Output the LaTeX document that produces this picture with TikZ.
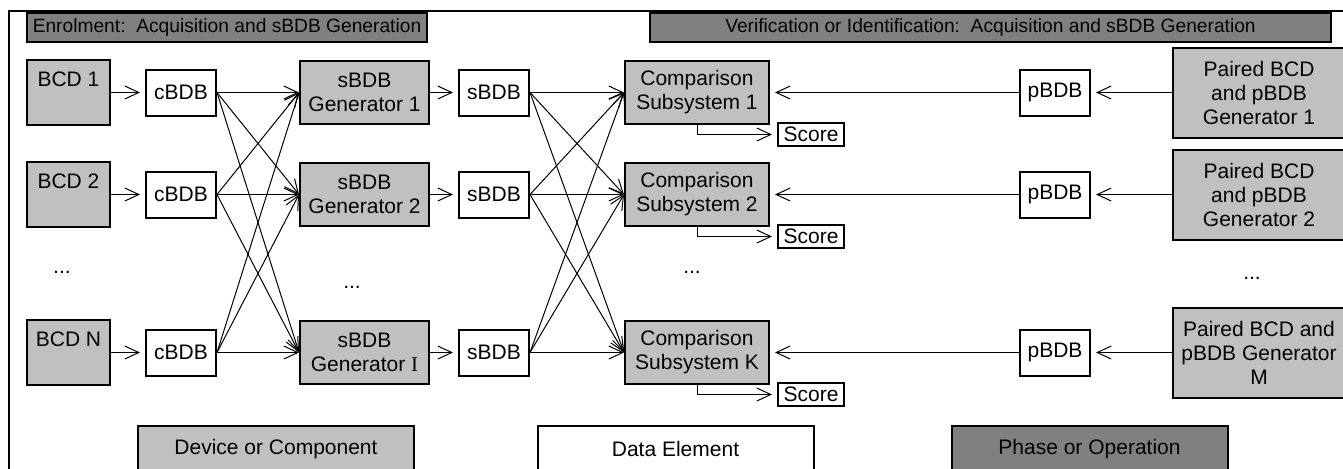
\documentclass[tikz,border=0pt]{standalone}
\usepackage{fontspec}
\setmainfont{Liberation Sans}
\newfontfamily\romanI{Liberation Serif}
\usepackage{xcolor}
\definecolor{devicegray}{RGB}{192,192,192}
\definecolor{phasegray}{RGB}{128,128,128}
\usepackage{tikz}
\usetikzlibrary{arrows.meta,positioning}

\begin{document}
\begin{tikzpicture}[
    x=0.5pt, y=-0.5pt,
    font=\fontsize{10.5}{12}\selectfont,
    phase/.style={rectangle, draw, line width=1pt, fill=phasegray, minimum height=14.5pt, inner sep=0pt},
    header/.style={phase, font=\fontsize{9.6}{11}\selectfont},
    device/.style={rectangle, draw, line width=1pt, fill=devicegray, align=center, inner sep=0pt},
    dataelem/.style={rectangle, draw, line width=1pt, fill=white, align=center, inner sep=0pt, minimum width=35pt, minimum height=23pt},
    bcd/.style={device, minimum width=41.5pt, minimum height=32.5pt},
    gen/.style={device, minimum width=64.5pt, minimum height=31.5pt},
    cmp/.style={device, minimum width=72pt, minimum height=31.5pt},
    paired/.style={device, minimum width=86pt, minimum height=45pt},
    score/.style={dataelem, minimum width=33pt, minimum height=11.5pt},
    legend/.style={minimum width=138pt, minimum height=23pt},
    arrow/.style={-{Straight Barb[length=7pt,width=6.5pt]}, line width=0.5pt},
    gap/.style={shorten >=2.5pt}
]
\useasboundingbox (0,0) rectangle (1343,468);

% Frame
\draw[line width=1pt] (8.5,500) |- (1360,11);

% Phases
\node[header, minimum width=200pt] (enrol) at (227,27.5) {Enrolment:\ \ Acquisition and sBDB Generation};
\node[header, minimum width=340.5pt] (verif) at (990.5,27.5) {Verification or Identification:\ \ Acquisition and sBDB Generation};

% Capture devices
\node[bcd, label={[anchor=north, yshift=-3pt]north:BCD 1}] (bcd1) at (68.5,92.5) {};
\node[bcd, label={[anchor=north, yshift=-3pt]north:BCD 2}] (bcd2) at (68.5,194.5) {};
\node[bcd, label={[anchor=north, yshift=-3pt]north:BCD N}] (bcdn) at (68.5,352.5) {};
\node (dotsbcd) at (62,272) {...};

% cBDB
\node[dataelem, right=17pt of bcd1] (cbdb1) {cBDB};
\node[dataelem, right=17pt of bcd2] (cbdb2) {cBDB};
\node[dataelem, right=17pt of bcdn] (cbdbn) {cBDB};

% sBDB generators
\node[gen, right=41pt of cbdb1] (gen1) {sBDB\\Generator 1};
\node[gen, right=41pt of cbdb2] (gen2) {sBDB\\Generator 2};
\node[gen, right=41pt of cbdbn] (geni) {sBDB\\Generator {\romanI I}};
\node (dotsgen) at (352,287) {...};

% sBDB
\node[dataelem, right=14pt of gen1] (sbdb1) {sBDB};
\node[dataelem, right=14pt of gen2] (sbdb2) {sBDB};
\node[dataelem, right=14pt of geni] (sbdbi) {sBDB};

% Comparison subsystems
\node[cmp, right=47pt of sbdb1] (cmp1) {Comparison\\Subsystem 1};
\node[cmp, right=47pt of sbdb2] (cmp2) {Comparison\\Subsystem 2};
\node[cmp, right=47pt of sbdbi] (cmpk) {Comparison\\Subsystem K};
\node (dotscmp) at (692,272) {...};

% Scores
\node[score, right=3.5pt of cmp1.south east, yshift=-4.75pt] (score1) {Score};
\node[score, right=3.5pt of cmp2.south east, yshift=-4.75pt] (score2) {Score};
\node[score, right=3.5pt of cmpk.south east, yshift=-4.75pt] (scorek) {Score};

% pBDB
\node[dataelem, right=124.5pt of cmp1] (pbdb1) {pBDB};
\node[dataelem, right=124.5pt of cmp2] (pbdb2) {pBDB};
\node[dataelem, right=124.5pt of cmpk] (pbdbm) {pBDB};

% Paired BCD and pBDB generators
\node[paired, right=40.5pt of pbdb1] (paired1) {Paired BCD\\and pBDB\\Generator 1};
\node[paired, right=40.5pt of pbdb2] (paired2) {Paired BCD\\and pBDB\\Generator 2};
\node[paired, right=40.5pt of pbdbm] (pairedm) {Paired BCD and\\pBDB Generator\\M};
\node (dotspaired) at (1252,278) {...};

% Legend
\node[device, legend] (legdev) at (276,449) {Device or Component};
\node[dataelem, legend] (legdata) at (675.5,449) {Data Element};
\node[phase, legend] (legphase) at (1089.5,449) {Phase or Operation};

% Enrolment arrows
\draw[arrow, gap] (bcd1) -- (cbdb1);
\draw[arrow, gap] (bcd2) -- (cbdb2);
\draw[arrow, gap] (bcdn) -- (cbdbn);
\foreach \src in {cbdb1,cbdb2,cbdbn}
  \foreach \dst in {gen1,gen2,geni}
    \draw[arrow] (\src.east) -- (\dst.west);
\draw[arrow, gap] (gen1) -- (sbdb1);
\draw[arrow, gap] (gen2) -- (sbdb2);
\draw[arrow, gap] (geni) -- (sbdbi);
\foreach \src in {sbdb1,sbdb2,sbdbi}
  \foreach \dst in {cmp1,cmp2,cmpk}
    \draw[arrow] (\src.east) -- (\dst.west);

% Verification arrows
\draw[arrow, gap] (paired1) -- (pbdb1);
\draw[arrow, gap] (paired2) -- (pbdb2);
\draw[arrow, gap] (pairedm) -- (pbdbm);
\draw[arrow, gap] (pbdb1) -- (cmp1);
\draw[arrow, gap] (pbdb2) -- (cmp2);
\draw[arrow, gap] (pbdbm) -- (cmpk);

% Scores
\draw[arrow, gap] (cmp1.south) |- (score1.west);
\draw[arrow, gap] (cmp2.south) |- (score2.west);
\draw[arrow, gap] (cmpk.south) |- (scorek.west);
\end{tikzpicture}
\end{document}
